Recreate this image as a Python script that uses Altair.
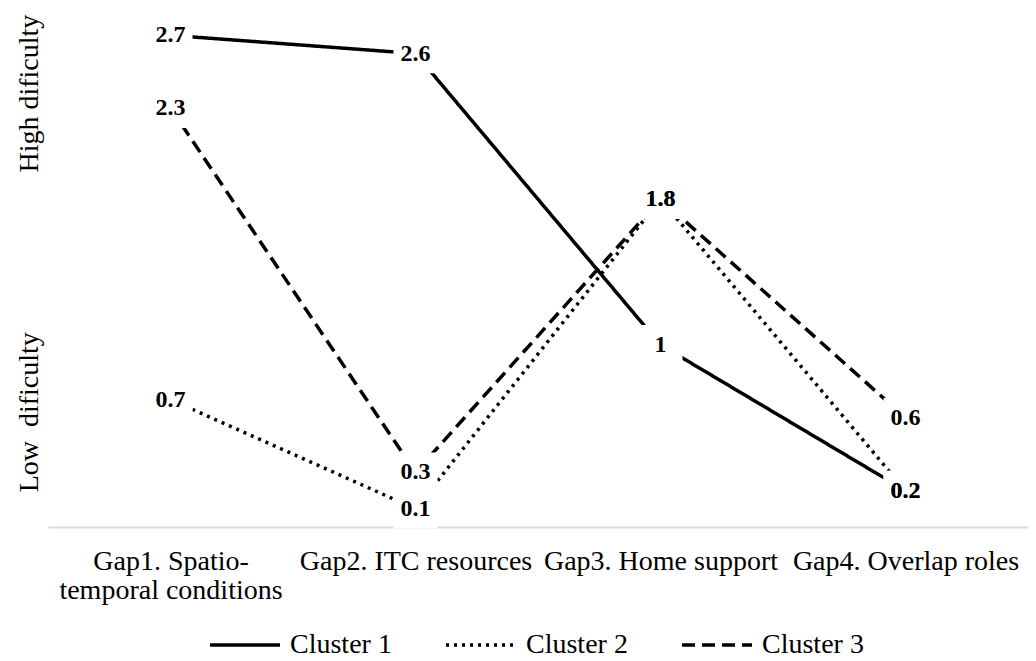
import altair as alt
import pandas as pd

categories = [
    "Gap1. Spatio-temporal conditions",
    "Gap2. ITC resources",
    "Gap3. Home support",
    "Gap4. Overlap roles",
]
clusters = ["Cluster 1", "Cluster 2", "Cluster 3"]
cluster1 = [2.7, 2.6, 1, 0.2]
cluster2 = [0.7, 0.1, 1.8, 0.2]
cluster3 = [2.3, 0.3, 1.8, 0.6]

side_titles = ["High dificulty", "Low\u00a0 dificulty"]
side_title_pos = [2.38, 0.63]

rows = []
for name, vals in zip(clusters, [cluster1, cluster2, cluster3]):
    for cat, v in zip(categories, vals):
        rows.append({"category": cat, "cluster": name, "value": v})
df = pd.DataFrame(rows)
side_df = pd.DataFrame({"title": side_titles, "pos": side_title_pos})

FONT = "Liberation Serif"

x_enc = alt.X(
    "category:N",
    sort=categories,
    scale=alt.Scale(type="point", padding=0.5),
    axis=alt.Axis(
        title=None,
        ticks=False,
        tickSize=0,
        grid=False,
        domainColor="#d9d9d9",
        domainWidth=2,
        labelFont=FONT,
        labelFontSize=28,
        labelColor="black",
        labelAngle=0,
        labelPadding=20,
        labelLineHeight=29,
        labelLimit=500,
        labelOverlap=False,
        labelExpr="datum.label == 'Gap1. Spatio-temporal conditions' ? ['Gap1. Spatio-', 'temporal conditions'] : datum.label",
    ),
)
y_scale = alt.Scale(domain=[0, 2.85], nice=False, zero=True)
y_enc = alt.Y("value:Q", scale=y_scale, axis=None)

lines = alt.Chart(df).mark_line(color="black", strokeWidth=3.5).encode(
    x=x_enc,
    y=y_enc,
    strokeDash=alt.StrokeDash(
        "cluster:N",
        scale=alt.Scale(domain=clusters, range=[[1, 0], [3, 5], [13, 7]]),
        legend=alt.Legend(
            title=None,
            orient="none",
            direction="horizontal",
            legendX=160,
            legendY=600,
            symbolType="stroke",
            symbolSize=4900,
            symbolStrokeWidth=3.5,
            symbolStrokeColor="black",
            labelFont=FONT,
            labelFontSize=28,
            labelColor="black",
            labelOffset=8,
            columnPadding=47,
            padding=0,
        ),
    ),
    detail="cluster:N",
)

box_shape = "M-1,-0.9L1,-0.9L1,0.9L-1,0.9Z"
boxes = alt.Chart(df).mark_point(
    shape=box_shape, filled=True, color="white", opacity=1, strokeWidth=0, size=1936
).encode(x=x_enc, y=y_enc)

labels = alt.Chart(df).mark_text(
    font=FONT, fontSize=24, fontWeight="bold", color="black", align="center", baseline="middle"
).encode(x=x_enc, y=y_enc, text=alt.Text("value:Q", format=".1~f"))

side = alt.Chart(side_df).mark_text(
    font=FONT, fontSize=28, color="black", angle=270, align="center", baseline="middle"
).encode(x=alt.value(-18), y=alt.Y("pos:Q", scale=y_scale, axis=None), text="title:N")

chart = (
    alt.layer(lines, boxes, labels, side)
    .properties(
        width=980,
        height=519,
        background="white",
        autosize=alt.AutoSizeParams(type="none"),
        padding={"left": 40, "top": 0, "right": 0, "bottom": 134},
    )
    .configure_view(strokeWidth=0, stroke="transparent")
)

chart.save("out.html", embed_options={"renderer": "svg", "actions": False})
